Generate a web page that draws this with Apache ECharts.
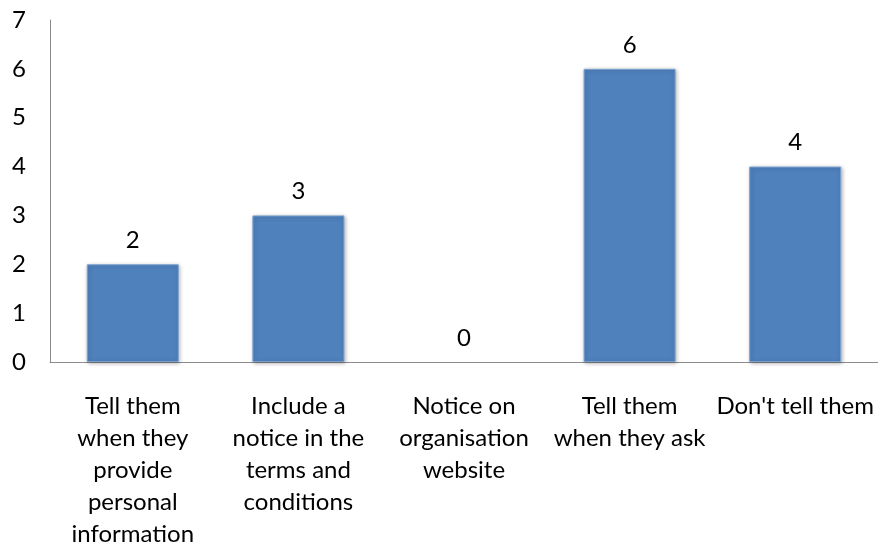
<!DOCTYPE html>
<html>
<head>
<meta charset="utf-8">
<script src="https://cdn.jsdelivr.net/npm/echarts@6/dist/echarts.min.js"></script>
<style>
  html, body { margin: 0; padding: 0; background: #fff; }
  #chart { width: 878px; height: 550px; }
</style>
</head>
<body>
<div id="chart"></div>
<script>
// Responses: how people are told about the use of their data
const categories = [
  'Tell them\nwhen they\nprovide\npersonal\ninformation',
  'Include a\nnotice in the\nterms and\nconditions',
  'Notice on\norganisation\nwebsite',
  'Tell them\nwhen they ask',
  "Don't tell them"
];
const counts = [2, 3, 0, 6, 4];
const yTicks = [0, 1, 2, 3, 4, 5, 6, 7];

const font = 'Lato, "Open Sans", sans-serif';
const barStyle = {
  color: '#4f81bd',
  borderColor: '#7aa0cf',
  borderWidth: 1,
  shadowBlur: 4,
  shadowColor: 'rgba(0,0,0,0.3)',
  shadowOffsetX: 1,
  shadowOffsetY: 1
};
// a zero-height bar gets no outline or shadow
const barData = counts.map(v => v === 0
  ? { value: v, itemStyle: { borderWidth: 0, shadowBlur: 0, shadowColor: 'transparent', shadowOffsetX: 0, shadowOffsetY: 0 } }
  : { value: v });

const chart = echarts.init(document.getElementById('chart'));
chart.setOption({
  animation: false,
  grid: { left: 50, top: 20, width: 830, bottom: 186 },
  xAxis: {
    type: 'category',
    data: categories,
    axisLine: { lineStyle: { color: '#8c8c8c', width: 1 } },
    axisTick: { show: false },
    axisLabel: {
      interval: 0,
      margin: 28,
      color: '#000',
      fontFamily: font,
      fontSize: 24,
      lineHeight: 32
    }
  },
  yAxis: {
    type: 'value',
    min: yTicks[0],
    max: yTicks[yTicks.length - 1],
    interval: 1,
    splitLine: { show: false },
    axisTick: { show: false },
    axisLine: { show: true, lineStyle: { color: '#8c8c8c', width: 1 } },
    axisLabel: {
      margin: 24,
      color: '#000',
      fontFamily: font,
      fontSize: 24
    }
  },
  series: [{
    type: 'bar',
    data: barData,
    barWidth: 92,
    itemStyle: barStyle,
    label: {
      show: true,
      position: 'top',
      distance: 12,
      color: '#000',
      fontFamily: font,
      fontSize: 24
    }
  }]
});
</script>
</body>
</html>
